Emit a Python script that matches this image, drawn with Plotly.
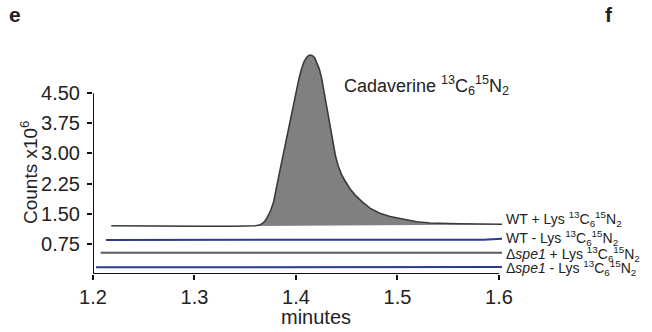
import plotly.graph_objects as go

# ---------------- data ----------------
x_ticks = [1.2, 1.3, 1.4, 1.5, 1.6]
x_ticktext = ["1.2", "1.3", "1.4", "1.5", "1.6"]
y_ticks = [0.75, 1.5, 2.25, 3.0, 3.75, 4.5]
y_ticktext = ["0.75", "1.50", "2.25", "3.00", "3.75", "4.50"]

# WT + Lys 13C6 15N2 (cadaverine peak), counts x10^6
wt_plus_t = [1.218, 1.26, 1.30, 1.34, 1.355, 1.360, 1.364, 1.367, 1.3695,
             1.372, 1.3751, 1.378, 1.3826, 1.3892, 1.3958, 1.4030, 1.4055,
             1.4079, 1.4105, 1.4125, 1.4145, 1.4165, 1.4185, 1.4204, 1.4230,
             1.4253, 1.4312, 1.4340, 1.4367, 1.4390, 1.4415, 1.4445, 1.4483,
             1.4530, 1.4581, 1.4650, 1.4729, 1.4820, 1.4926, 1.5050, 1.5189,
             1.532, 1.56, 1.603]
wt_plus_v = [1.20, 1.19, 1.19, 1.19, 1.195, 1.20, 1.22, 1.26, 1.32,
             1.42, 1.58, 1.80, 2.38, 3.21, 4.04, 4.87, 5.10,
             5.28, 5.39, 5.44, 5.45, 5.43, 5.38, 5.28, 5.10,
             4.87, 4.04, 3.62, 3.21, 2.93, 2.70, 2.50, 2.32,
             2.13, 1.97, 1.80, 1.64, 1.52, 1.43, 1.36, 1.30,
             1.27, 1.25, 1.24]
# baseline under the peak (lower edge of the shaded area)
peak_base_t = [1.355, 1.603]
peak_base_v = [1.195, 1.235]

# WT - Lys
wt_minus_t = [1.2128, 1.30, 1.40, 1.50, 1.585, 1.603]
wt_minus_v = [0.846, 0.846, 0.846, 0.85, 0.855, 0.875]

# Δspe1 + Lys
spe_plus_t = [1.2076, 1.30, 1.40, 1.50, 1.603]
spe_plus_v = [0.53, 0.53, 0.53, 0.53, 0.53]

# Δspe1 - Lys
spe_minus_t = [1.203, 1.30, 1.40, 1.50, 1.603]
spe_minus_v = [0.167, 0.167, 0.167, 0.17, 0.172]

iso = "<sup>13</sup>C<sub>6</sub><sup>15</sup>N<sub>2</sub>"
trace_labels = ["WT + Lys " + iso, "WT - Lys " + iso,
                "Δ<i>spe1</i> + Lys " + iso, "Δ<i>spe1</i> - Lys " + iso]

# ---------------- styling ----------------
FONT = "Arial, 'Liberation Sans', Helvetica, sans-serif"
BLUE = "#2b3990"
DARK = "#3a3a3a"
GRAY = "#5a5a5a"
FILL = "#808080"

W, H = 652, 332
ML, MR, MT, MB = 93, 149, 49, 58
XR = [1.2, 1.604]
YR = [0.0, 5.6]
pw, ph = W - ML - MR, H - MT - MB


def px2paper(px, py):
    return (px - ML) / pw, (H - MB - py) / ph


fig = go.Figure()

fig.add_trace(go.Scatter(x=peak_base_t, y=peak_base_v, mode="lines",
                         line=dict(width=0, color=FILL), hoverinfo="skip",
                         showlegend=False))
fig.add_trace(go.Scatter(x=wt_plus_t, y=wt_plus_v, mode="lines",
                         line=dict(color=DARK, width=1.6),
                         fill="tonexty", fillcolor=FILL, showlegend=False))
fig.add_trace(go.Scatter(x=wt_minus_t, y=wt_minus_v, mode="lines",
                         line=dict(color=BLUE, width=2), showlegend=False))
fig.add_trace(go.Scatter(x=spe_plus_t, y=spe_plus_v, mode="lines",
                         line=dict(color=GRAY, width=2), showlegend=False))
fig.add_trace(go.Scatter(x=spe_minus_t, y=spe_minus_v, mode="lines",
                         line=dict(color=BLUE, width=2), showlegend=False))

annotations = []

# right-hand trace labels
label_py = [219, 238, 254, 268]
for txt, py in zip(trace_labels, label_py):
    ax, ay = px2paper(504, py)
    annotations.append(dict(xref="paper", yref="paper", x=ax, y=ay, text=txt,
                            showarrow=False, xanchor="left", yanchor="middle",
                            font=dict(family=FONT, size=14, color="#222")))

# peak label
ax, ay = px2paper(342, 85)
annotations.append(dict(xref="paper", yref="paper", x=ax, y=ay,
                        text="Cadaverine " + iso, showarrow=False,
                        xanchor="left", yanchor="middle",
                        font=dict(family=FONT, size=18, color="#222")))
# axis titles
ax, ay = px2paper(316, 317)
annotations.append(dict(xref="paper", yref="paper", x=ax, y=ay, text="minutes",
                        showarrow=False, xanchor="center", yanchor="middle",
                        font=dict(family=FONT, size=20, color="#222")))
ax, ay = px2paper(29, 172)
annotations.append(dict(xref="paper", yref="paper", x=ax, y=ay,
                        text="Counts x10<sup>6</sup>", textangle=-90,
                        showarrow=False, xanchor="center", yanchor="middle",
                        font=dict(family=FONT, size=19, color="#222")))
# panel letters
for letter, (lx, ly) in (("e", (15, 15)), ("f", (609, 14))):
    ax, ay = px2paper(lx, ly)
    annotations.append(dict(xref="paper", yref="paper", x=ax, y=ay,
                            text="<b>" + letter + "</b>", showarrow=False,
                            xanchor="center", yanchor="middle",
                            font=dict(family=FONT, size=21, color="#222")))

shapes = [
    dict(type="line", xref="x", yref="y", x0=x_ticks[0], x1=x_ticks[-1],
         y0=0, y1=0, line=dict(color="#111", width=2)),
    dict(type="line", xref="x", yref="y", x0=x_ticks[0], x1=x_ticks[0],
         y0=0, y1=y_ticks[-1], line=dict(color="#111", width=2)),
]

fig.update_layout(
    width=W, height=H,
    margin=dict(l=ML, r=MR, t=MT, b=MB, pad=0),
    paper_bgcolor="white", plot_bgcolor="white",
    font=dict(family=FONT, color="#222"),
    xaxis=dict(range=XR, tickvals=x_ticks, ticktext=x_ticktext,
               showgrid=False, zeroline=False, showline=False,
               ticks="outside", ticklen=5, tickwidth=1.5, tickcolor="#111",
               tickfont=dict(family=FONT, size=20, color="#222")),
    yaxis=dict(range=YR, tickvals=y_ticks, ticktext=y_ticktext,
               showgrid=False, zeroline=False, showline=False,
               ticks="outside", ticklen=5, tickwidth=1.5, tickcolor="#111",
               ticklabelstandoff=3,
               tickfont=dict(family=FONT, size=20, color="#222")),
    annotations=annotations,
    shapes=shapes,
    showlegend=False,
)

fig.write_html("out.html")
